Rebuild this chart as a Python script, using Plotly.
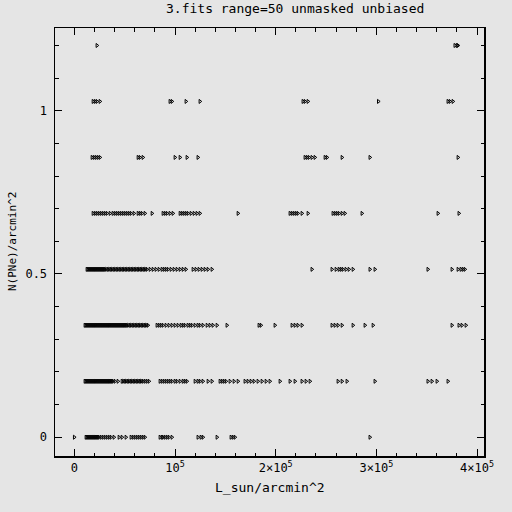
import plotly.graph_objects as go

# N(PNe)/arcmin^2 levels
levels = [0.0, 0.1714, 0.3429, 0.5143, 0.6857, 0.8571, 1.0286, 1.2]

# L_sun/arcmin^2 values at each level, in units of 1e3
lum_k = [
    # level 0
    [0, 11.6, 12.6, 13.6, 14.6, 15.6, 16.6, 17.6, 18.6, 19.6, 20.6, 21.5, 22.5, 23.5, 24.5,
     26.5, 28.5, 30.5, 32.5, 34.5, 36.4, 39.4, 44.4, 47.4, 51.3, 56.3, 58.3, 60.3, 62.3, 64.2,
     66.2, 68.2, 70.2, 85.1, 87.1, 88.1, 90.1, 92.1, 94.0, 97.0, 122.8, 125.8, 127.8, 141.7,
     155.6, 157.6, 159.6, 293.6],
    # level 1
    [10.6, 11.6, 12.6, 13.6, 14.6, 15.6, 16.6, 17.6, 18.6, 19.6, 20.6, 21.5, 22.5, 23.5, 24.5,
     25.5, 26.5, 27.5, 28.5, 29.5, 30.5, 31.5, 32.5, 33.5, 34.5, 35.4, 36.4, 37.4, 38.4,
     40.4, 43.4, 47.4, 48.9, 50.3, 51.8, 53.3, 54.8, 56.3, 57.8, 59.3, 60.8, 62.3, 63.8, 65.2,
     66.7, 68.2, 70.2, 72.2, 74.2, 85.1, 87.1, 89.1, 91.1, 93.1, 95.0, 97.0, 100.0, 102.0,
     105.0, 108.0, 109.9, 111.9, 119.9, 122.8, 124.8, 127.8, 132.8, 136.7, 144.7, 146.7,
     148.7, 150.7, 154.6, 158.6, 162.6, 169.5, 172.5, 175.5, 178.5, 182.4, 186.4, 190.4,
     194.3, 204.3, 214.2, 219.2, 226.1, 230.1, 234.1, 261.9, 265.9, 270.8, 298.6, 351.2,
     355.2, 360.2, 371.1],
    # level 2
    [10.6, 11.6, 12.6, 13.6, 14.6, 15.6, 16.6, 17.6, 18.6, 19.6, 20.6, 21.5, 22.5, 23.5, 24.5,
     25.5, 26.5, 27.5, 28.5, 29.5, 30.5, 31.5, 32.5, 33.5, 34.5, 35.4, 36.4, 37.4, 38.4, 39.4,
     40.4, 41.4, 42.4, 43.4, 44.4, 45.4, 46.4, 47.4, 48.4, 49.4, 50.3, 51.3, 52.3, 53.8, 55.3,
     56.8, 58.3, 59.8, 61.3, 62.8, 64.2, 65.7, 67.2, 68.7, 70.2, 71.7, 73.2, 82.1, 84.1, 86.1,
     88.1, 91.1, 94.0, 97.0, 100.0, 103.0, 106.0, 108.0, 109.9, 112.9, 114.9, 116.9, 119.9,
     122.8, 124.8, 127.8, 131.8, 134.7, 137.7, 141.7, 151.6, 183.4, 185.4, 199.3, 216.2,
     219.2, 222.1, 226.1, 255.9, 258.9, 261.9, 265.9, 276.8, 288.7, 296.7, 375.1, 382.0,
     385.0, 389.0],
    # level 3
    [12.6, 13.6, 14.6, 15.6, 16.6, 17.6, 18.6, 19.6, 20.6, 21.5, 22.5, 23.5, 24.5, 25.5, 26.5,
     27.5, 28.5, 29.5, 30.5, 32.0, 33.5, 35.0, 36.4, 37.9, 39.4, 40.9, 42.4, 43.9, 45.4, 46.9,
     48.4, 49.8, 51.3, 52.8, 54.3, 55.8, 57.3, 58.8, 60.3, 61.8, 63.3, 64.7, 66.2, 67.7, 69.2,
     70.7, 72.2, 75.2, 78.2, 81.1, 84.1, 87.1, 89.1, 91.1, 93.1, 96.0, 99.0, 102.0, 105.0,
     108.0, 110.9, 117.9, 120.8, 123.8, 126.8, 129.8, 132.8, 136.7, 236.0, 255.9, 259.9,
     262.9, 264.9, 266.8, 269.8, 272.8, 276.8, 293.6, 298.6, 351.2, 375.1, 381.1, 384.0,
     386.0, 388.0],
    # level 4
    [18.6, 20.6, 22.5, 24.5, 26.5, 28.5, 30.5, 32.5, 35.5, 38.4, 40.4, 42.4, 44.4, 46.4, 48.4,
     50.3, 52.3, 54.3, 56.3, 59.3, 63.3, 65.2, 67.2, 70.2, 77.2, 88.1, 90.1, 92.1, 95.0, 98.0,
     105.0, 106.9, 108.9, 110.9, 112.9, 115.9, 118.9, 121.8, 124.8, 162.6, 214.2, 216.2,
     218.2, 220.2, 222.1, 226.1, 232.1, 256.9, 258.9, 260.9, 262.9, 265.9, 268.8, 285.7,
     361.2, 382.0],
    # level 5
    [17.6, 19.6, 21.5, 23.5, 25.5, 63.3, 65.2, 68.2, 100.0, 105.0, 111.9, 122.8, 229.1, 231.1,
     233.1, 236.0, 239.0, 249.0, 251.0, 265.9, 293.6, 381.1],
    # level 6
    [18.6, 20.6, 22.5, 25.5, 95.0, 97.0, 110.9, 124.8, 227.1, 229.1, 232.1, 302.0, 371.1,
     373.1, 376.1],
    # level 7
    [22.5, 378.0, 380.1, 381.1],
]

x_tickvals = [0, 1e5, 2e5, 3e5, 4e5]
x_ticktext = ["0", "10<sup>5</sup>", "2×10<sup>5</sup>", "3×10<sup>5</sup>", "4×10<sup>5</sup>"]
y_tickvals = [0, 0.5, 1]
y_ticktext = ["0", "0.5", "1"]

xs, ys = [], []
for lev, vals in zip(levels, lum_k):
    for v in vals:
        xs.append(v * 1e3)
        ys.append(lev)

FONT = "DejaVu Sans Mono"
BG = "#e5e5e5"

fig = go.Figure()
fig.add_trace(go.Scatter(
    x=xs, y=ys, mode="markers",
    marker=dict(symbol="triangle-right-open", size=3.5, color="black",
                line=dict(color="black", width=1)),
    showlegend=False, hoverinfo="skip",
))

axis_common = dict(
    showline=True, linecolor="black", linewidth=1.5, mirror="allticks",
    ticks="inside", ticklen=7, tickwidth=1, tickcolor="black",
    showgrid=False, zeroline=False, automargin=False,
    tickfont=dict(family=FONT, size=12, color="black"),
)

fig.update_layout(
    width=512, height=512,
    margin=dict(l=55, r=28, t=28, b=56),
    paper_bgcolor=BG, plot_bgcolor=BG,
    font=dict(family=FONT, color="black"),
    xaxis=dict(range=[-19200, 406900], tickmode="array", tickvals=x_tickvals,
               ticktext=x_ticktext,
               minor=dict(tickmode="linear", tick0=0, dtick=20000, ticklen=3.5,
                          ticks="inside", tickcolor="black"),
               **axis_common),
    yaxis=dict(range=[-0.0575, 1.2535], tickmode="array", tickvals=y_tickvals,
               ticktext=y_ticktext,
               minor=dict(tickmode="linear", tick0=0, dtick=0.1, ticklen=3.5,
                          ticks="inside", tickcolor="black"),
               ticklabelstandoff=4,
               **axis_common),
    annotations=[
        dict(text="3.fits range=50 unmasked unbiased", xref="paper", yref="paper",
             x=0.56, y=1.0 + 20 / 428, xanchor="center", yanchor="middle",
             showarrow=False, font=dict(family=FONT, size=13, color="black")),
        dict(text="L_sun/arcmin^2", xref="paper", yref="paper",
             x=0.5, y=-31 / 428, xanchor="center", yanchor="middle",
             showarrow=False, font=dict(family=FONT, size=13, color="black")),
        dict(text="N(PNe)/arcmin^2", xref="paper", yref="paper",
             x=-43 / 429, y=0.5, xanchor="center", yanchor="middle", textangle=-90,
             showarrow=False, font=dict(family=FONT, size=11, color="black")),
    ],
)

fig.write_html("out.html",
               config={"displayModeBar": False, "staticPlot": True},
               post_script="document.body.style.margin='0';document.body.style.padding='0';")
